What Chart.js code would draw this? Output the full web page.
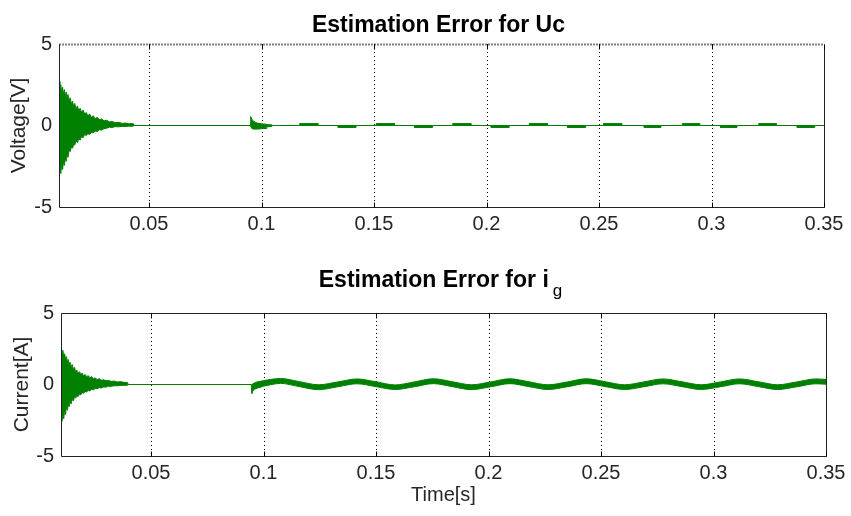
<!DOCTYPE html>
<html>
<head>
<meta charset="utf-8">
<script src="https://cdn.jsdelivr.net/npm/chart.js@4.4.1/dist/chart.umd.min.js"></script>
<style>
  body { margin: 0; background: #fff; }
  canvas { display: block; }
</style>
</head>
<body>
<canvas id="ucChart" width="851" height="258"></canvas>
<canvas id="igChart" width="851" height="258"></canvas>
<script>
// axis ticks
const xTicks = [0.05, 0.1, 0.15, 0.2, 0.25, 0.3, 0.35];
const yTicks = [-5, 0, 5];

// Uc estimation error, read as an upper / lower envelope of the green trace
const ucTime = [
  0.0100, 0.0104, 0.0108, 0.0112, 0.0116, 0.0120, 0.0124, 0.0128, 0.0132, 0.0136,
  0.0140, 0.0145, 0.0150, 0.0155, 0.0160, 0.0165, 0.0170, 0.0176, 0.0182, 0.0188,
  0.0194, 0.0200, 0.0207, 0.0214, 0.0221, 0.0228, 0.0236, 0.0244, 0.0252, 0.0260,
  0.0270, 0.0280, 0.0290, 0.0300, 0.0312, 0.0324, 0.0336, 0.0350, 0.0365, 0.0380,
  0.0395, 0.0410, 0.0426, 0.0432, 0.0434,
  0.0950, 0.0952, 0.0958, 0.0966, 0.0980, 0.1000, 0.1020, 0.1024, 0.1045, 0.1050,
  0.1169, 0.1170, 0.1250, 0.1251,  0.1339, 0.1340, 0.1420, 0.1421,
  0.1509, 0.1510, 0.1590, 0.1591,  0.1679, 0.1680, 0.1760, 0.1761,
  0.1849, 0.1850, 0.1930, 0.1931,  0.2019, 0.2020, 0.2100, 0.2101,
  0.2189, 0.2190, 0.2270, 0.2271,  0.2359, 0.2360, 0.2440, 0.2441,
  0.2519, 0.2520, 0.2600, 0.2601,  0.2699, 0.2700, 0.2775, 0.2776,
  0.2869, 0.2870, 0.2948, 0.2949,  0.3039, 0.3040, 0.3113, 0.3114,
  0.3209, 0.3210, 0.3287, 0.3288,  0.3379, 0.3380, 0.3458, 0.3459,
  0.3500
];
const ucUpper = [
  2.7, 2.2, 2.5, 2.0, 2.35, 1.9, 2.2, 1.75, 2.05, 1.6,
  1.9, 1.5, 1.7, 1.3, 1.5, 1.15, 1.35, 1.0, 1.2, 0.9,
  1.05, 0.8, 0.95, 0.7, 0.8, 0.6, 0.7, 0.5, 0.6, 0.42,
  0.5, 0.35, 0.4, 0.28, 0.32, 0.22, 0.25, 0.17, 0.2, 0.13,
  0.15, 0.11, 0.12, 0.1, 0,
  0, 0.55, 0.35, 0.25, 0.15, 0.1, 0.08, 0.05, 0.04, 0,
  0, 0.12, 0.12, 0,  0, 0, 0, 0,
  0, 0.12, 0.12, 0,  0, 0, 0, 0,
  0, 0.12, 0.12, 0,  0, 0, 0, 0,
  0, 0.12, 0.12, 0,  0, 0, 0, 0,
  0, 0.12, 0.12, 0,  0, 0, 0, 0,
  0, 0.12, 0.12, 0,  0, 0, 0, 0,
  0, 0.12, 0.12, 0,  0, 0, 0, 0,
  0
];
const ucLower = [
  -2.3, -2.6, -2.95, -2.4, -2.7, -2.2, -2.45, -2.0, -2.2, -1.75,
  -1.95, -1.5, -1.6, -1.3, -1.4, -1.15, -1.2, -0.95, -1.05, -0.8,
  -0.9, -0.68, -0.75, -0.55, -0.62, -0.5, -0.55, -0.42, -0.46, -0.34,
  -0.37, -0.26, -0.28, -0.19, -0.17, -0.1, -0.12, -0.07, -0.08, -0.05,
  -0.06, -0.04, -0.05, -0.03, 0,
  0, -0.05, -0.2, -0.22, -0.22, -0.2, -0.18, -0.08, -0.06, 0,
  0, 0, 0, 0,  0, -0.12, -0.12, 0,
  0, 0, 0, 0,  0, -0.12, -0.12, 0,
  0, 0, 0, 0,  0, -0.12, -0.12, 0,
  0, 0, 0, 0,  0, -0.12, -0.12, 0,
  0, 0, 0, 0,  0, -0.12, -0.12, 0,
  0, 0, 0, 0,  0, -0.12, -0.12, 0,
  0, 0, 0, 0,  0, -0.12, -0.12, 0,
  0
];

// ig estimation error, same idea
const igTime = [
  0.0100, 0.0104, 0.0108, 0.0112, 0.0116, 0.0120, 0.0124, 0.0128, 0.0132, 0.0136,
  0.0140, 0.0145, 0.0150, 0.0155, 0.0160, 0.0165, 0.0170, 0.0176, 0.0182, 0.0188,
  0.0194, 0.0200, 0.0207, 0.0214, 0.0221, 0.0228, 0.0236, 0.0244, 0.0252, 0.0260,
  0.0270, 0.0280, 0.0290, 0.0300, 0.0312, 0.0324, 0.0336, 0.0350, 0.0365, 0.0380,
  0.0395, 0.0400,
  0.0945, 0.0948, 0.0953, 0.0965, 0.0985, 0.1000, 0.1030,
  0.1075, 0.1160, 0.1245, 0.1330, 0.1415, 0.1500, 0.1585, 0.1670,
  0.1755, 0.1840, 0.1925, 0.2010, 0.2095, 0.2180, 0.2265, 0.2350,
  0.2435, 0.2520, 0.2605, 0.2690, 0.2775, 0.2860, 0.2945, 0.3030,
  0.3115, 0.3200, 0.3285, 0.3370, 0.3455, 0.3500
];
const igUpper = [
  2.5, 2.2, 2.4, 2.0, 2.15, 1.8, 1.95, 1.6, 1.75, 1.4,
  1.55, 1.25, 1.4, 1.05, 1.2, 0.9, 1.0, 0.8, 0.9, 0.72,
  0.8, 0.62, 0.7, 0.55, 0.62, 0.48, 0.55, 0.42, 0.46, 0.35,
  0.4, 0.3, 0.33, 0.26, 0.28, 0.22, 0.24, 0.18, 0.2, 0.15,
  0.14, 0,
  0, 0, 0.05, 0.15, 0.22, 0.27, 0.35,
  0.42, 0.2, -0.02, 0.18, 0.39, 0.19, -0.03, 0.18,
  0.4, 0.19, -0.02, 0.18, 0.4, 0.19, -0.02, 0.18,
  0.4, 0.19, -0.02, 0.18, 0.39, 0.19, -0.02, 0.18,
  0.39, 0.19, -0.02, 0.18, 0.39, 0.36
];
const igLower = [
  -2.1, -2.6, -2.2, -2.4, -1.9, -2.1, -1.65, -1.8, -1.45, -1.55,
  -1.25, -1.35, -1.05, -1.15, -0.9, -0.95, -0.78, -0.85, -0.68, -0.72,
  -0.58, -0.62, -0.5, -0.52, -0.42, -0.45, -0.35, -0.37, -0.28, -0.3,
  -0.22, -0.24, -0.17, -0.18, -0.13, -0.13, -0.09, -0.09, -0.07, -0.06,
  -0.05, 0,
  0, -0.65, -0.45, -0.3, -0.2, -0.12, -0.02,
  0.08, -0.15, -0.36, -0.16, 0.05, -0.15, -0.35, -0.16,
  0.06, -0.15, -0.36, -0.16, 0.06, -0.15, -0.35, -0.16,
  0.06, -0.15, -0.35, -0.16, 0.05, -0.15, -0.35, -0.16,
  0.05, -0.15, -0.35, -0.16, 0.05, 0.02
];

const FONT = "'Liberation Sans', Arial, Helvetica, sans-serif";
const GREEN = '#008000';

// dotted x grid, axes box and inward tick marks, MATLAB style
const framePlugin = {
  id: 'frame',
  beforeDatasetsDraw(chart) {
    const {ctx, chartArea: a, scales: {x}} = chart;
    ctx.save();
    ctx.strokeStyle = '#000';
    ctx.lineWidth = 1;
    ctx.setLineDash([1, 3]);
    xTicks.forEach(v => {
      if (v >= x.max) return;
      const px = Math.round(x.getPixelForValue(v)) + 0.5;
      ctx.beginPath();
      ctx.moveTo(px, a.top);
      ctx.lineTo(px, a.bottom);
      ctx.stroke();
    });
    ctx.restore();
  },
  afterDatasetsDraw(chart, args, opts) {
    const {ctx, chartArea: a, scales: {x, y}} = chart;
    const l = Math.round(a.left) + 0.5, r = Math.round(a.right) + 0.5;
    const t = Math.round(a.top) + 0.5, b = Math.round(a.bottom) + 0.5;
    ctx.save();
    ctx.strokeStyle = '#222';
    ctx.lineWidth = 1;
    ctx.beginPath();
    ctx.moveTo(l, t); ctx.lineTo(l, b); ctx.lineTo(r, b); ctx.lineTo(r, t);
    if (!opts.dottedTop) ctx.lineTo(l, t);
    ctx.stroke();
    if (opts.dottedTop) {
      ctx.strokeStyle = '#000';
      ctx.lineWidth = 2;
      ctx.setLineDash([1, 2]);
      ctx.beginPath();
      ctx.moveTo(l, t); ctx.lineTo(r, t);
      ctx.stroke();
      ctx.setLineDash([]);
    }
    ctx.strokeStyle = '#000';
    ctx.lineWidth = 1;
    xTicks.forEach(v => {
      const px = Math.round(x.getPixelForValue(v)) + 0.5;
      ctx.beginPath();
      ctx.moveTo(px, b); ctx.lineTo(px, b - 5);
      ctx.moveTo(px, t); ctx.lineTo(px, t + 5);
      ctx.stroke();
    });
    ctx.restore();
  },
  afterDraw(chart, args, opts) {
    const {ctx, chartArea: a} = chart;
    const cx = (a.left + a.right) / 2 - 3;
    ctx.save();
    ctx.fillStyle = '#000';
    ctx.textBaseline = 'alphabetic';
    ctx.font = 'bold 23px ' + FONT;
    const w = ctx.measureText(opts.title).width;
    let subW = 0;
    if (opts.sub) {
      ctx.font = '17px ' + FONT;
      subW = ctx.measureText(opts.sub).width + 4;
    }
    const x0 = cx - (w + subW) / 2;
    ctx.font = 'bold 23px ' + FONT;
    ctx.textAlign = 'left';
    ctx.fillText(opts.title, x0, opts.titleY);
    if (opts.sub) {
      ctx.font = '17px ' + FONT;
      ctx.fillText(opts.sub, x0 + w + 4, opts.titleY + 9);
    }
    ctx.restore();
  }
};

function band(time, upper, lower, curve) {
  const pts = arr => time.map((t, i) => ({x: t, y: arr[i]}));
  const common = {
    borderColor: GREEN,
    backgroundColor: GREEN,
    borderWidth: 1,
    pointRadius: 0,
    tension: curve ? 0.4 : 0,
    cubicInterpolationMode: curve ? 'monotone' : 'default'
  };
  return [
    Object.assign({data: pts(upper), fill: '+1'}, common),
    Object.assign({data: pts(lower), fill: false}, common)
  ];
}

function makeChart(id, s) {
  const ctx = document.getElementById(id).getContext('2d');
  return new Chart(ctx, {
    type: 'line',
    data: {datasets: band(s.time, s.upper, s.lower, s.curve)},
    plugins: [framePlugin],
    options: {
      responsive: false,
      animation: false,
      events: [],
      layout: {padding: {left: 0, right: s.padRight, top: s.padTop, bottom: 0}},
      plugins: {
        legend: {display: false},
        tooltip: {enabled: false},
        frame: {title: s.title, sub: s.sub, titleY: s.titleY, dottedTop: s.dottedTop}
      },
      scales: {
        x: {
          type: 'linear',
          min: 0.01,
          max: 0.35,
          afterBuildTicks: sc => { sc.ticks = xTicks.map(v => ({value: v})); },
          afterFit: sc => { sc.height = s.xHeight; },
          grid: {display: false, drawTicks: false},
          border: {display: false},
          ticks: {
            color: '#262626',
            padding: 5,
            maxRotation: 0,
            autoSkip: false,
            font: {family: FONT, size: 20},
            callback: v => String(v)
          },
          title: {
            display: !!s.xTitle,
            text: s.xTitle,
            color: '#262626',
            font: {family: FONT, size: 20},
            padding: {top: 0, bottom: 9}
          }
        },
        y: {
          min: -5,
          max: 5,
          afterBuildTicks: sc => { sc.ticks = yTicks.map(v => ({value: v})); },
          afterFit: sc => { sc.width = s.yWidth; },
          grid: {display: false, drawTicks: false},
          border: {display: false},
          ticks: {
            color: '#262626',
            padding: 7,
            font: {family: FONT, size: 20},
            callback: v => String(v)
          },
          title: {
            display: true,
            text: s.yTitle,
            color: '#262626',
            font: {family: FONT, size: 21},
            padding: {top: s.yTitlePad, bottom: 0}
          }
        }
      }
    }
  });
}

makeChart('ucChart', {
  time: ucTime, upper: ucUpper, lower: ucLower, curve: false,
  title: 'Estimation Error for Uc', sub: '', titleY: 32, dottedTop: true,
  yTitle: 'Voltage[V]', yTitlePad: 7, xTitle: '',
  yWidth: 59, xHeight: 51, padTop: 44, padRight: 27
});

makeChart('igChart', {
  time: igTime, upper: igUpper, lower: igLower, curve: true,
  title: 'Estimation Error for i', sub: 'g', titleY: 29, dottedTop: false,
  yTitle: 'Current[A]', yTitlePad: 10, xTitle: 'Time[s]',
  yWidth: 61, xHeight: 60, padTop: 55, padRight: 25
});
</script>
</body>
</html>
